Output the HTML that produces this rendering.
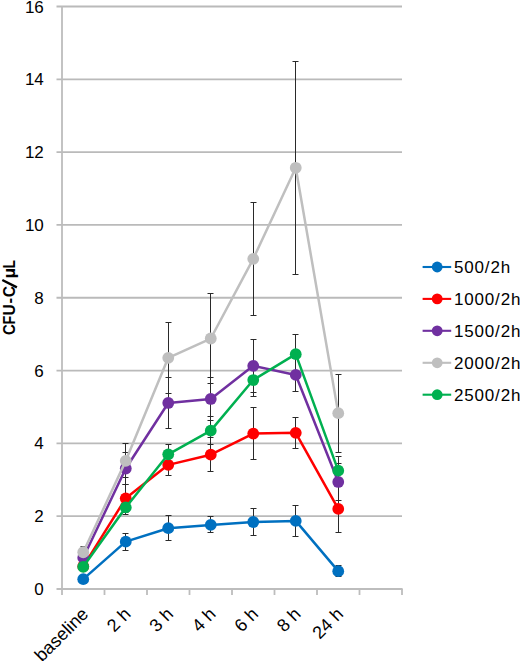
<!DOCTYPE html><html><head><meta charset="utf-8"><style>html,body{margin:0;padding:0;background:#fff;}svg{display:block;}text{font-family:"Liberation Sans",sans-serif;}</style></head><body>
<svg width="520" height="661" viewBox="0 0 520 661">
<rect width="520" height="661" fill="#fff"/>
<line x1="56.5" y1="516.19" x2="402.0" y2="516.19" stroke="#bababa" stroke-width="1.8"/>
<line x1="56.5" y1="443.38" x2="402.0" y2="443.38" stroke="#bababa" stroke-width="1.8"/>
<line x1="56.5" y1="370.56" x2="402.0" y2="370.56" stroke="#bababa" stroke-width="1.8"/>
<line x1="56.5" y1="297.75" x2="402.0" y2="297.75" stroke="#bababa" stroke-width="1.8"/>
<line x1="56.5" y1="224.94" x2="402.0" y2="224.94" stroke="#bababa" stroke-width="1.8"/>
<line x1="56.5" y1="152.12" x2="402.0" y2="152.12" stroke="#bababa" stroke-width="1.8"/>
<line x1="56.5" y1="79.31" x2="402.0" y2="79.31" stroke="#bababa" stroke-width="1.8"/>
<line x1="56.5" y1="6.50" x2="402.0" y2="6.50" stroke="#bababa" stroke-width="1.8"/>
<line x1="62.0" y1="5.9" x2="62.0" y2="589.6" stroke="#bdbdbd" stroke-width="1.8"/>
<line x1="56.5" y1="589.0" x2="402.6" y2="589.0" stroke="#bdbdbd" stroke-width="1.8"/>
<line x1="62.00" y1="589.0" x2="62.00" y2="595.0" stroke="#bdbdbd" stroke-width="1.8"/>
<line x1="104.50" y1="589.0" x2="104.50" y2="595.0" stroke="#bdbdbd" stroke-width="1.8"/>
<line x1="147.00" y1="589.0" x2="147.00" y2="595.0" stroke="#bdbdbd" stroke-width="1.8"/>
<line x1="189.50" y1="589.0" x2="189.50" y2="595.0" stroke="#bdbdbd" stroke-width="1.8"/>
<line x1="232.00" y1="589.0" x2="232.00" y2="595.0" stroke="#bdbdbd" stroke-width="1.8"/>
<line x1="274.50" y1="589.0" x2="274.50" y2="595.0" stroke="#bdbdbd" stroke-width="1.8"/>
<line x1="317.00" y1="589.0" x2="317.00" y2="595.0" stroke="#bdbdbd" stroke-width="1.8"/>
<line x1="359.50" y1="589.0" x2="359.50" y2="595.0" stroke="#bdbdbd" stroke-width="1.8"/>
<line x1="402.00" y1="589.0" x2="402.00" y2="595.0" stroke="#bdbdbd" stroke-width="1.8"/>
<text x="43.8" y="595.10" font-size="17" text-anchor="end" fill="#000">0</text>
<text x="43.8" y="522.29" font-size="17" text-anchor="end" fill="#000">2</text>
<text x="43.8" y="449.48" font-size="17" text-anchor="end" fill="#000">4</text>
<text x="43.8" y="376.66" font-size="17" text-anchor="end" fill="#000">6</text>
<text x="43.8" y="303.85" font-size="17" text-anchor="end" fill="#000">8</text>
<text x="43.8" y="231.04" font-size="17" text-anchor="end" fill="#000">10</text>
<text x="43.8" y="158.22" font-size="17" text-anchor="end" fill="#000">12</text>
<text x="43.8" y="85.41" font-size="17" text-anchor="end" fill="#000">14</text>
<text x="43.8" y="12.60" font-size="17" text-anchor="end" fill="#000">16</text>
<line x1="16.9" y1="287.4" x2="2.3" y2="280.0" stroke="#000" stroke-width="2.5"/>
<text transform="translate(14.8,329.65) rotate(-90) scale(0.9,1)" font-size="16.8" font-weight="bold" text-anchor="middle" fill="#000">C</text>
<text transform="translate(14.8,320.25) rotate(-90) scale(0.85,1)" font-size="16.8" font-weight="bold" text-anchor="middle" fill="#000">F</text>
<text transform="translate(14.8,309.95) rotate(-90) scale(0.93,1)" font-size="16.8" font-weight="bold" text-anchor="middle" fill="#000">U</text>
<text transform="translate(14.8,300.60) rotate(-90) scale(1.0,1)" font-size="16.8" font-weight="bold" text-anchor="middle" fill="#000">-</text>
<text transform="translate(14.8,291.65) rotate(-90) scale(0.93,1)" font-size="16.8" font-weight="bold" text-anchor="middle" fill="#000">C</text>
<text transform="translate(14.8,273.15) rotate(-90) scale(1.1,1)" font-size="16.8" font-weight="bold" text-anchor="middle" fill="#000">µ</text>
<text transform="translate(14.8,264.30) rotate(-90) scale(0.82,1)" font-size="16.8" font-weight="bold" text-anchor="middle" fill="#000">L</text>
<text transform="translate(89.45,615.2) rotate(-45)" font-size="18" text-anchor="end" fill="#000">baseline</text>
<text transform="translate(131.95,615.2) rotate(-45)" font-size="18" text-anchor="end" fill="#000">2 h</text>
<text transform="translate(174.45,615.2) rotate(-45)" font-size="18" text-anchor="end" fill="#000">3 h</text>
<text transform="translate(216.95,615.2) rotate(-45)" font-size="18" text-anchor="end" fill="#000">4 h</text>
<text transform="translate(259.45,615.2) rotate(-45)" font-size="18" text-anchor="end" fill="#000">6 h</text>
<text transform="translate(301.95,615.2) rotate(-45)" font-size="18" text-anchor="end" fill="#000">8 h</text>
<text transform="translate(344.45,615.2) rotate(-45)" font-size="18" text-anchor="end" fill="#000">24 h</text>
<path d="M83.50,577.50V580.50M80.50,577.50H86.50M80.50,580.50H86.50" stroke="#2a2a2a" stroke-width="1.0" fill="none"/>
<path d="M125.50,533.50V550.50M122.50,533.50H128.50M122.50,550.50H128.50" stroke="#2a2a2a" stroke-width="1.0" fill="none"/>
<path d="M168.50,515.50V540.50M165.50,515.50H171.50M165.50,540.50H171.50" stroke="#2a2a2a" stroke-width="1.0" fill="none"/>
<path d="M210.50,516.50V532.50M207.50,516.50H213.50M207.50,532.50H213.50" stroke="#2a2a2a" stroke-width="1.0" fill="none"/>
<path d="M253.50,508.50V535.50M250.50,508.50H256.50M250.50,535.50H256.50" stroke="#2a2a2a" stroke-width="1.0" fill="none"/>
<path d="M295.50,505.50V536.50M292.50,505.50H298.50M292.50,536.50H298.50" stroke="#2a2a2a" stroke-width="1.0" fill="none"/>
<path d="M338.50,565.50V576.50M335.50,565.50H341.50M335.50,576.50H341.50" stroke="#2a2a2a" stroke-width="1.0" fill="none"/>
<path d="M83.50,562.50V570.50M80.50,562.50H86.50M80.50,570.50H86.50" stroke="#2a2a2a" stroke-width="1.0" fill="none"/>
<path d="M125.50,484.50V512.50M122.50,484.50H128.50M122.50,512.50H128.50" stroke="#2a2a2a" stroke-width="1.0" fill="none"/>
<path d="M168.50,454.50V475.50M165.50,454.50H171.50M165.50,475.50H171.50" stroke="#2a2a2a" stroke-width="1.0" fill="none"/>
<path d="M210.50,437.50V471.50M207.50,437.50H213.50M207.50,471.50H213.50" stroke="#2a2a2a" stroke-width="1.0" fill="none"/>
<path d="M253.50,407.50V459.50M250.50,407.50H256.50M250.50,459.50H256.50" stroke="#2a2a2a" stroke-width="1.0" fill="none"/>
<path d="M295.50,417.50V448.50M292.50,417.50H298.50M292.50,448.50H298.50" stroke="#2a2a2a" stroke-width="1.0" fill="none"/>
<path d="M338.50,485.50V532.50M335.50,485.50H341.50M335.50,532.50H341.50" stroke="#2a2a2a" stroke-width="1.0" fill="none"/>
<path d="M83.50,553.50V562.50M80.50,553.50H86.50M80.50,562.50H86.50" stroke="#2a2a2a" stroke-width="1.0" fill="none"/>
<path d="M125.50,452.50V484.50M122.50,452.50H128.50M122.50,484.50H128.50" stroke="#2a2a2a" stroke-width="1.0" fill="none"/>
<path d="M168.50,377.50V428.50M165.50,377.50H171.50M165.50,428.50H171.50" stroke="#2a2a2a" stroke-width="1.0" fill="none"/>
<path d="M210.50,377.50V420.50M207.50,377.50H213.50M207.50,420.50H213.50" stroke="#2a2a2a" stroke-width="1.0" fill="none"/>
<path d="M253.50,339.50V392.50M250.50,339.50H256.50M250.50,392.50H256.50" stroke="#2a2a2a" stroke-width="1.0" fill="none"/>
<path d="M295.50,358.50V391.50M292.50,358.50H298.50M292.50,391.50H298.50" stroke="#2a2a2a" stroke-width="1.0" fill="none"/>
<path d="M338.50,463.50V500.50M335.50,463.50H341.50M335.50,500.50H341.50" stroke="#2a2a2a" stroke-width="1.0" fill="none"/>
<path d="M83.50,546.50V557.50M80.50,546.50H86.50M80.50,557.50H86.50" stroke="#2a2a2a" stroke-width="1.0" fill="none"/>
<path d="M125.50,443.50V477.50M122.50,443.50H128.50M122.50,477.50H128.50" stroke="#2a2a2a" stroke-width="1.0" fill="none"/>
<path d="M168.50,322.50V393.50M165.50,322.50H171.50M165.50,393.50H171.50" stroke="#2a2a2a" stroke-width="1.0" fill="none"/>
<path d="M210.50,293.50V383.50M207.50,293.50H213.50M207.50,383.50H213.50" stroke="#2a2a2a" stroke-width="1.0" fill="none"/>
<path d="M253.50,202.50V315.50M250.50,202.50H256.50M250.50,315.50H256.50" stroke="#2a2a2a" stroke-width="1.0" fill="none"/>
<path d="M295.50,61.50V274.50M292.50,61.50H298.50M292.50,274.50H298.50" stroke="#2a2a2a" stroke-width="1.0" fill="none"/>
<path d="M338.50,374.50V452.50M335.50,374.50H341.50M335.50,452.50H341.50" stroke="#2a2a2a" stroke-width="1.0" fill="none"/>
<path d="M83.50,563.50V570.50M80.50,563.50H86.50M80.50,570.50H86.50" stroke="#2a2a2a" stroke-width="1.0" fill="none"/>
<path d="M125.50,500.50V514.50M122.50,500.50H128.50M122.50,514.50H128.50" stroke="#2a2a2a" stroke-width="1.0" fill="none"/>
<path d="M168.50,444.50V464.50M165.50,444.50H171.50M165.50,464.50H171.50" stroke="#2a2a2a" stroke-width="1.0" fill="none"/>
<path d="M210.50,416.50V444.50M207.50,416.50H213.50M207.50,444.50H213.50" stroke="#2a2a2a" stroke-width="1.0" fill="none"/>
<path d="M253.50,363.50V396.50M250.50,363.50H256.50M250.50,396.50H256.50" stroke="#2a2a2a" stroke-width="1.0" fill="none"/>
<path d="M295.50,334.50V373.50M292.50,334.50H298.50M292.50,373.50H298.50" stroke="#2a2a2a" stroke-width="1.0" fill="none"/>
<path d="M338.50,456.50V485.50M335.50,456.50H341.50M335.50,485.50H341.50" stroke="#2a2a2a" stroke-width="1.0" fill="none"/>
<polyline points="83.25,579.17 125.75,541.67 168.25,528.20 210.75,524.92 253.25,522.01 295.75,520.92 338.25,571.16" fill="none" stroke="#0070C0" stroke-width="2.5" stroke-linejoin="round" stroke-linecap="round"/>
<circle cx="83.25" cy="579.17" r="5.9" fill="#0070C0"/>
<circle cx="125.75" cy="541.67" r="5.9" fill="#0070C0"/>
<circle cx="168.25" cy="528.20" r="5.9" fill="#0070C0"/>
<circle cx="210.75" cy="524.92" r="5.9" fill="#0070C0"/>
<circle cx="253.25" cy="522.01" r="5.9" fill="#0070C0"/>
<circle cx="295.75" cy="520.92" r="5.9" fill="#0070C0"/>
<circle cx="338.25" cy="571.16" r="5.9" fill="#0070C0"/>
<polyline points="83.25,566.43 125.75,498.35 168.25,464.85 210.75,454.66 253.25,433.55 295.75,432.82 338.25,508.91" fill="none" stroke="#FF0000" stroke-width="2.5" stroke-linejoin="round" stroke-linecap="round"/>
<circle cx="83.25" cy="566.43" r="5.9" fill="#FF0000"/>
<circle cx="125.75" cy="498.35" r="5.9" fill="#FF0000"/>
<circle cx="168.25" cy="464.85" r="5.9" fill="#FF0000"/>
<circle cx="210.75" cy="454.66" r="5.9" fill="#FF0000"/>
<circle cx="253.25" cy="433.55" r="5.9" fill="#FF0000"/>
<circle cx="295.75" cy="432.82" r="5.9" fill="#FF0000"/>
<circle cx="338.25" cy="508.91" r="5.9" fill="#FF0000"/>
<polyline points="83.25,557.69 125.75,468.50 168.25,402.96 210.75,398.96 253.25,365.83 295.75,374.93 338.25,481.97" fill="none" stroke="#7030A0" stroke-width="2.5" stroke-linejoin="round" stroke-linecap="round"/>
<circle cx="83.25" cy="557.69" r="5.9" fill="#7030A0"/>
<circle cx="125.75" cy="468.50" r="5.9" fill="#7030A0"/>
<circle cx="168.25" cy="402.96" r="5.9" fill="#7030A0"/>
<circle cx="210.75" cy="398.96" r="5.9" fill="#7030A0"/>
<circle cx="253.25" cy="365.83" r="5.9" fill="#7030A0"/>
<circle cx="295.75" cy="374.93" r="5.9" fill="#7030A0"/>
<circle cx="338.25" cy="481.97" r="5.9" fill="#7030A0"/>
<polyline points="83.25,552.23 125.75,460.85 168.25,357.82 210.75,338.52 253.25,258.80 295.75,167.78 338.25,413.16" fill="none" stroke="#BFBFBF" stroke-width="2.5" stroke-linejoin="round" stroke-linecap="round"/>
<circle cx="83.25" cy="552.23" r="5.9" fill="#BFBFBF"/>
<circle cx="125.75" cy="460.85" r="5.9" fill="#BFBFBF"/>
<circle cx="168.25" cy="357.82" r="5.9" fill="#BFBFBF"/>
<circle cx="210.75" cy="338.52" r="5.9" fill="#BFBFBF"/>
<circle cx="253.25" cy="258.80" r="5.9" fill="#BFBFBF"/>
<circle cx="295.75" cy="167.78" r="5.9" fill="#BFBFBF"/>
<circle cx="338.25" cy="413.16" r="5.9" fill="#BFBFBF"/>
<polyline points="83.25,566.79 125.75,507.45 168.25,454.30 210.75,430.63 253.25,380.03 295.75,354.18 338.25,470.68" fill="none" stroke="#00B050" stroke-width="2.5" stroke-linejoin="round" stroke-linecap="round"/>
<circle cx="83.25" cy="566.79" r="5.9" fill="#00B050"/>
<circle cx="125.75" cy="507.45" r="5.9" fill="#00B050"/>
<circle cx="168.25" cy="454.30" r="5.9" fill="#00B050"/>
<circle cx="210.75" cy="430.63" r="5.9" fill="#00B050"/>
<circle cx="253.25" cy="380.03" r="5.9" fill="#00B050"/>
<circle cx="295.75" cy="354.18" r="5.9" fill="#00B050"/>
<circle cx="338.25" cy="470.68" r="5.9" fill="#00B050"/>
<line x1="422.6" y1="267.0" x2="451.2" y2="267.0" stroke="#0070C0" stroke-width="2.1"/>
<circle cx="437.2" cy="267.0" r="5.4" fill="#0070C0"/>
<text x="454.1" y="273.00" font-size="17" letter-spacing="0.8" fill="#000">500/2h</text>
<line x1="422.6" y1="298.9" x2="451.2" y2="298.9" stroke="#FF0000" stroke-width="2.1"/>
<circle cx="437.2" cy="298.9" r="5.4" fill="#FF0000"/>
<text x="454.1" y="304.90" font-size="17" letter-spacing="0.8" fill="#000">1000/2h</text>
<line x1="422.6" y1="330.8" x2="451.2" y2="330.8" stroke="#7030A0" stroke-width="2.1"/>
<circle cx="437.2" cy="330.8" r="5.4" fill="#7030A0"/>
<text x="454.1" y="336.80" font-size="17" letter-spacing="0.8" fill="#000">1500/2h</text>
<line x1="422.6" y1="362.8" x2="451.2" y2="362.8" stroke="#BFBFBF" stroke-width="2.1"/>
<circle cx="437.2" cy="362.8" r="5.4" fill="#BFBFBF"/>
<text x="454.1" y="368.80" font-size="17" letter-spacing="0.8" fill="#000">2000/2h</text>
<line x1="422.6" y1="394.7" x2="451.2" y2="394.7" stroke="#00B050" stroke-width="2.1"/>
<circle cx="437.2" cy="394.7" r="5.4" fill="#00B050"/>
<text x="454.1" y="400.70" font-size="17" letter-spacing="0.8" fill="#000">2500/2h</text>
</svg></body></html>
